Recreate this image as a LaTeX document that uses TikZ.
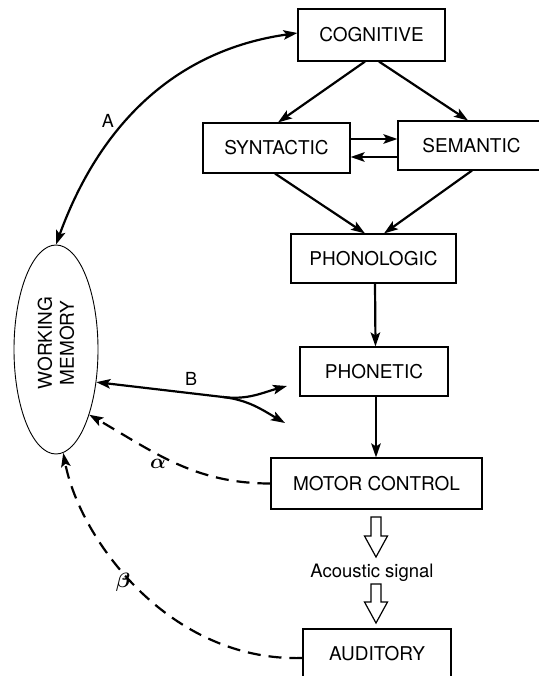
\documentclass[tikz,border=0pt]{standalone}
\usepackage{fontspec}
\setmainfont{TeX Gyre Heros}
\usetikzlibrary{arrows.meta,shapes.geometric}
\begin{document}
\begin{tikzpicture}[x=1pt,y=-1pt,
    >={Stealth[length=14pt,width=9.5pt,inset=3pt]},
    block/.style={draw,line width=1.1pt,inner sep=0pt,font=\fontsize{19}{22}\selectfont},
    flow/.style={line width=2.2pt},
    fb/.style={line width=2.2pt,dash pattern=on 13pt off 8pt},
    lbl/.style={font=\fontsize{18}{20}\selectfont},
    greek/.style={font=\fontsize{21}{22}\selectfont\boldmath}]
    \useasboundingbox (0,0) rectangle (538,676);
    \node[block,minimum width=147pt,minimum height=52pt] (cog) at (371.5,35) {COGNITIVE};
    \node[block,minimum width=147pt,minimum height=50pt] (syn) at (276.5,148) {SYNTACTIC};
    \node[block,minimum width=147pt,minimum height=49pt] (sem) at (471.5,145.5) {SEMANTIC};
    \node[block,minimum width=165pt,minimum height=49pt] (phl) at (373.5,258.5) {PHONOLOGIC};
    \node[block,minimum width=148pt,minimum height=49pt] (pht) at (374,371.5) {PHONETIC};
    \node[block,minimum width=211pt,minimum height=51pt] (mot) at (376.5,483.5) {MOTOR CONTROL};
    \node[block,minimum width=148pt,minimum height=50pt] (aud) at (377,654) {AUDITORY};
    \node[draw,ellipse,line width=0.9pt,minimum width=84pt,minimum height=209pt,inner sep=0pt] (wm) at (56,349.5) {};
    \node[rotate=90,align=center,font=\fontsize{19}{22}\selectfont] (wmtext) at (56,343) {WORKING\\MEMORY};
    \node[anchor=base,font=\fontsize{18.5}{22}\selectfont] (sig) at (372,577) {Acoustic signal};
    \draw[flow,->] ([xshift=-6.5pt]cog.south) -- ([xshift=1.5pt]syn.north);
    \draw[flow,->] ([xshift=7.5pt]cog.south) -- ([xshift=-3.5pt]sem.north);
    \draw[flow,->] ([yshift=9pt]syn.east) -- ([yshift=6.5pt]sem.west);
    \draw[flow,->] ([yshift=-11.5pt]sem.west) -- ([yshift=-9pt]syn.east);
    \draw[flow,->] ([xshift=-1.5pt]syn.south) -- ([xshift=-8.5pt]phl.north);
    \draw[flow,->] ([xshift=0.5pt]sem.south) -- ([xshift=10.5pt]phl.north);
    \draw[flow,->] ([xshift=1.5pt]phl.south) -- ([xshift=1.5pt]pht.north);
    \draw[flow,->] ([xshift=2pt]pht.south) -- ([xshift=-0.5pt]mot.north);
    \draw[flow,<->] (wm.north) to[out=70,in=188] ([yshift=2pt]cog.west);
    \node[lbl] (la) at (108,121) {A};
    \coordinate (bsplit) at (223,397);
    \coordinate (bup) at (287,386);
    \coordinate (bdown) at (285,423);
    \draw[flow,<-] (wm.-39) -- (bsplit);
    \draw[flow,->] (bsplit) to[out=-7,in=195] (bup);
    \draw[flow,->] (bsplit) to[out=-7,in=150] (bdown);
    \node[lbl] (lb) at (191,379) {B};
    \draw[fb,->] (mot.west) to[out=180,in=-30] (wm.-63);
    \node[greek] (lalpha) at (158,464) {$\alpha$};
    \draw[fb,->] ([yshift=-4pt]aud.west) .. controls (170,662) and (80,540) .. (wm.-86);
    \node[greek] (lbeta) at (123,582) {$\beta$};
    \foreach \ytop/\ytip in {517/557,584/623}
    \draw[line width=1.2pt] (371,\ytop) -- (381,\ytop) -- (381,\ytip-21) -- (387.5,\ytip-21)
    -- (376,\ytip) -- (364.5,\ytip-21) -- (371,\ytip-21) -- cycle;
\end{tikzpicture}
\end{document}
